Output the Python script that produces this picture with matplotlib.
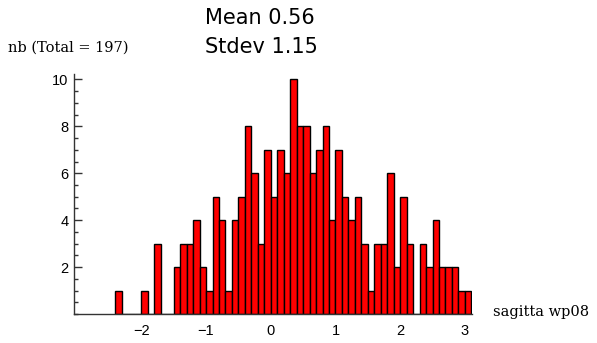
import numpy as np
import matplotlib.pyplot as plt
from matplotlib.ticker import MultipleLocator

# histogram of sagitta wp08, bins of 0.1 starting at -2.4
bin_start = -2.4
bin_width = 0.1
counts = [1, 0, 0, 0, 1, 0, 3, 0, 0,
          2, 3, 3, 4, 2, 1, 5, 4, 1, 4,
          5, 8, 6, 3, 7, 5, 7, 6, 10, 8,
          8, 6, 7, 8, 4, 7, 5, 4, 5, 3,
          1, 3, 3, 6, 2, 5, 3, 0, 3, 2,
          4, 2, 2, 2, 1, 1]
mean_txt = "Mean 0.56"
stdev_txt = "Stdev 1.15"
ylabel_txt = "nb (Total = 197)"
xlabel_txt = "sagitta wp08"
xticks = [-2, -1, 0, 1, 2, 3]
yticks = [2, 4, 6, 8, 10]

edges = bin_start + bin_width * np.arange(len(counts))

fig = plt.figure(figsize=(5.97, 3.43), dpi=100)
ax = fig.add_axes([0.124, 0.0845, 0.6666, 0.6995])

ax.bar(edges, counts, width=bin_width, align='edge',
       color='#ff0000', edgecolor='black', linewidth=1.0)

ax.set_xlim(-3.04, 3.11)
ax.set_ylim(0, 10.23)

for s in ['top', 'right']:
   ax.spines[s].set_visible(False)
for s in ['left', 'bottom']:
   ax.spines[s].set_color('#333333')
   ax.spines[s].set_linewidth(1.0)

ax.set_xticks(xticks)
ax.set_xticklabels([f"\u2212{abs(t)}" if t < 0 else str(t) for t in xticks])
ax.set_yticks(yticks)
ax.yaxis.set_minor_locator(MultipleLocator(0.5))
ax.tick_params(axis='x', length=0, pad=7, labelsize=10.5)
ax.tick_params(axis='y', which='major', direction='in', length=6, width=1.0,
               color='#333333', labelsize=10.5, pad=4)
ax.tick_params(axis='y', which='minor', direction='in', length=3, width=1.0,
               color='#333333')
for lbl in ax.get_xticklabels() + ax.get_yticklabels():
   lbl.set_family('Liberation Sans')

fig.text(0.343, 0.948, mean_txt, fontsize=15, family='DejaVu Sans',
         ha='left', va='center')
fig.text(0.343, 0.862, stdev_txt, fontsize=15, family='DejaVu Sans',
         ha='left', va='center')
fig.text(0.013, 0.862, ylabel_txt, fontsize=10.5, family='DejaVu Serif',
         ha='left', va='center')
fig.text(0.826, 0.09, xlabel_txt, fontsize=10.5, family='DejaVu Serif',
         ha='left', va='center')

fig.savefig('out.png', dpi=100)
